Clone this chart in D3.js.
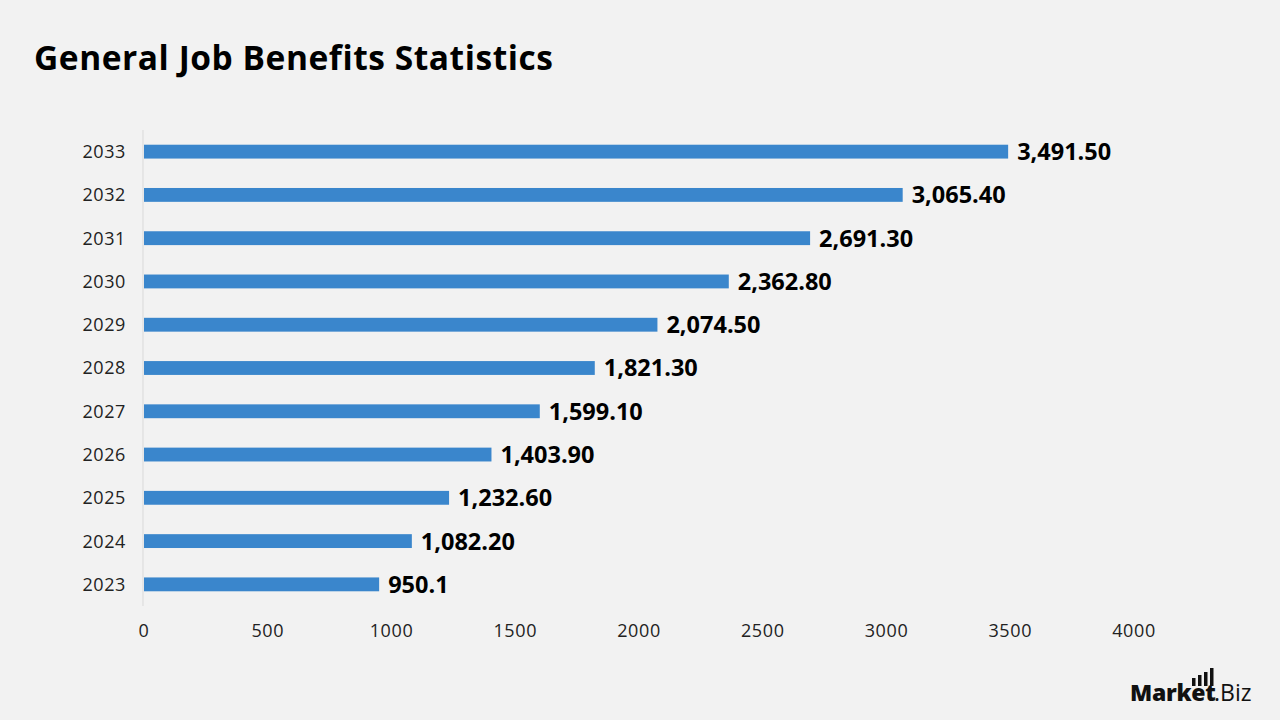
<!DOCTYPE html>
<html><head><meta charset="utf-8">
<script src="https://cdn.jsdelivr.net/npm/d3@7"></script>
<style>
html,body{margin:0;padding:0;background:#f2f2f2;}
svg{display:block;font-family:"Open Sans","Noto Sans",sans-serif;}
</style></head>
<body>
<svg id="chart" width="1280" height="720"></svg>
<script>
const years = ["2023","2024","2025","2026","2027","2028","2029","2030","2031","2032","2033"];
const values = [950.1,1082.2,1232.6,1403.9,1599.1,1821.3,2074.5,2362.8,2691.3,3065.4,3491.5];
const valueLabels = ["950.1","1,082.20","1,232.60","1,403.90","1,599.10","1,821.30","2,074.50","2,362.80","2,691.30","3,065.40","3,491.50"];
const xTicks = [0,500,1000,1500,2000,2500,3000,3500,4000];

const svg = d3.select("#chart");
svg.append("rect").attr("width",1280).attr("height",720).attr("fill","#f2f2f2");

svg.append("text").attr("x",34).attr("y",70).attr("font-size",33.5).attr("font-weight",700)
  .attr("letter-spacing",0.55)
  .attr("fill","#000").text("General Job Benefits Statistics");

const x = d3.scaleLinear().domain([0,4000]).range([144,1134]);
const y = d3.scaleBand().domain(years.slice().reverse()).range([130,606]).paddingInner(0.68).paddingOuter(0.34);

svg.append("line").attr("x1",143).attr("x2",143).attr("y1",130).attr("y2",606)
  .attr("stroke","#d9d9d9").attr("stroke-width",1);

const data = years.map((d,i)=>({year:d,value:values[i],label:valueLabels[i]}));

svg.selectAll("rect.bar").data(data).join("rect").attr("class","bar")
  .attr("x",x(0)).attr("y",d=>y(d.year)).attr("width",d=>x(d.value)-x(0)).attr("height",y.bandwidth())
  .attr("fill","#3a86cc");

svg.selectAll("text.val").data(data).join("text").attr("class","val")
  .attr("x",d=>x(d.value)+9).attr("y",d=>y(d.year)+y.bandwidth()/2).attr("dy","0.36em")
  .attr("font-size",23.5).attr("font-weight",700).attr("fill","#000").text(d=>d.label);

svg.selectAll("text.ylab").data(years).join("text").attr("class","ylab")
  .attr("x",126).attr("y",d=>y(d)+y.bandwidth()/2).attr("dy","0.36em").attr("text-anchor","end")
  .attr("font-size",18).attr("letter-spacing",0.6).attr("fill","#222").text(d=>d);

svg.selectAll("text.xlab").data(xTicks).join("text").attr("class","xlab")
  .attr("x",d=>x(d)).attr("y",631).attr("dy","0.36em").attr("text-anchor","middle")
  .attr("font-size",18).attr("letter-spacing",0.6).attr("fill","#222").text(d=>d);

// logo
const logo = svg.append("g");
logo.append("text").attr("x",1130).attr("y",701).attr("font-size",23).attr("font-weight",800)
  .attr("fill","#111").attr("letter-spacing",-0.3).text("Market");
logo.append("text").attr("x",1214).attr("y",701).attr("font-size",23).attr("font-weight",400)
  .attr("fill","#111").text(".Biz");
const barsH=[8,11,14,18];
barsH.forEach((h,i)=>{
  logo.append("rect").attr("x",1192+i*6).attr("y",686-h).attr("width",3.5).attr("height",h).attr("fill","#111");
});
</script>
</body></html>
